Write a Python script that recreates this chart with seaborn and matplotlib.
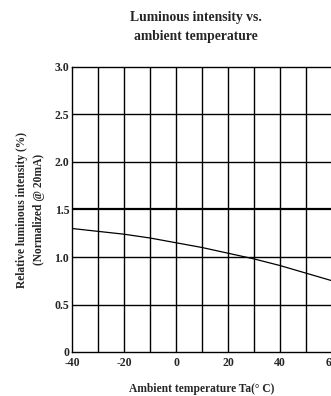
import matplotlib
matplotlib.use("Agg")
import matplotlib.pyplot as plt
import seaborn as sns
import pandas as pd

temps = [-40, -30, -20, -10, 0, 10, 20, 30, 40, 50, 60]
intensity = [1.30, 1.27, 1.24, 1.20, 1.15, 1.10, 1.04, 0.98, 0.91, 0.83, 0.75]
xticks = [-40, -20, 0, 20, 40, 60]
xticklabels = ["-40", "-20", "0", "20", "40", "60"]
yticks = [0, 0.5, 1.0, 1.5, 2.0, 2.5, 3.0]
yticklabels = ["0", "0.5", "1.0", "1.5", "2.0", "2.5", "3.0"]

sns.set_style("white")
plt.rcParams['font.family'] = ['Liberation Serif', 'DejaVu Serif']
plt.rcParams['font.weight'] = 'bold'

fig = plt.figure(figsize=(3.31, 3.96), dpi=100)
ax = fig.add_axes([72/331, 44/396, 260/331, 285/396])

df = pd.DataFrame({"t": temps, "i": intensity})
sns.lineplot(data=df, x="t", y="i", ax=ax, color="black", linewidth=0.9)

ax.set_xlim(-40, 60)
ax.set_ylim(0, 3.0)
for gx in range(-30, 60, 10):
    ax.axvline(gx, color="black", linewidth=1.0, zorder=0)
for gy in [0.5, 1.0, 2.0, 2.5]:
    ax.axhline(gy, color="black", linewidth=1.0, zorder=0)
ax.axhline(1.5, color="black", linewidth=1.6, zorder=0)

ax.set_xticks(xticks)
ax.set_xticklabels(xticklabels, fontsize=8.5, fontweight="bold")
ax.set_yticks(yticks)
ax.set_yticklabels(yticklabels, fontsize=8.5, fontweight="bold")
ax.tick_params(axis="y", length=0, pad=2)
ax.tick_params(axis="x", length=0, pad=3.5)
for s in ax.spines.values():
    s.set_color("black")
    s.set_linewidth(1.0)

ax.set_xlabel("Ambient temperature Ta(\u00b0 C)", fontsize=8.3, fontweight="bold", labelpad=10)
ax.set_ylabel("Relative luminous intensity (%)\n(Normalized @ 20mA)", fontsize=8.3,
              fontweight="bold", labelpad=7, linespacing=1.5)

fig.text(196/331, 1 - 27/396, "Luminous intensity vs.\nambient temperature", ha="center",
         va="center", fontsize=9.8, fontweight="bold", linespacing=1.55)

fig.savefig("out.png", dpi=100)
